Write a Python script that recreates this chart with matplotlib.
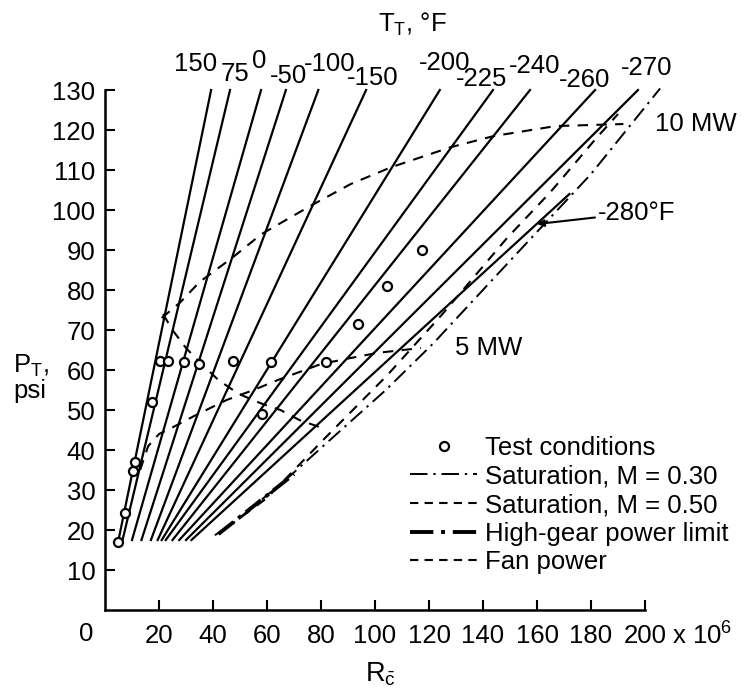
import matplotlib
matplotlib.use("Agg")
import matplotlib.pyplot as plt
from matplotlib.lines import Line2D

plt.rcParams["font.family"] = ["Liberation Sans", "DejaVu Sans"]
plt.rcParams["mathtext.fontset"] = "custom"
plt.rcParams["mathtext.rm"] = "Liberation Sans"
plt.rcParams["mathtext.it"] = "Liberation Sans"

# ---- data ----
temp_labels = ["150", "75", "0", "-50", "-100", "-150", "-200", "-225", "-240", "-260", "-270"]
temp_x0 = [5, 6.5, 10, 13.5, 17, 19.5, 21, 22.5, 25, 27.5, 30]
temp_x1 = [39.3, 46.3, 57.8, 67, 79, 96.7, 124, 143.7, 157.4, 181.5, 197.4]
temp_y0 = 17.5
temp_y1 = 130
temp_lab_x = [33.5, 48.3, 57.0, 67.8, 83.3, 99.3, 125.9, 139.6, 159.3, 177.8, 200.7]
temp_lab_y = [136.4, 133.9, 137.3, 133.4, 136.4, 132.9, 136.7, 132.8, 135.9, 132.4, 135.4]

t280_x = [32, 172]
t280_y = [17.5, 104]

test_x = [4.8, 7.4, 10.4, 11.1, 17.4, 20.4, 23.4, 29.3, 34.8, 47.4, 61.4, 58, 82, 93.8, 104.5, 117.4]
test_y = [17, 24.2, 34.7, 36.9, 51.9, 62.3, 62.3, 62, 61.6, 62.3, 62, 49, 62, 71.6, 81, 90]

sat30_x = [40.7, 47.4, 66.7, 80, 104, 121.5, 148.9, 180, 205.6]
sat30_y = [18.7, 21.7, 32.4, 40.5, 55, 66.6, 86.5, 109, 130.4]

sat50_x = [45, 60, 81.5, 104.4, 125, 148.9, 165, 182, 190]
sat50_y = [20.5, 28, 43, 58.6, 74, 93, 104.5, 118, 124]

gear_x = [42, 70]
gear_y = [19, 34]

fan10_x = [21, 28, 35, 47, 58, 76, 91, 106, 128, 144, 167, 192]
fan10_y = [73, 77, 82, 88, 94, 101, 106.5, 110.7, 115.7, 118.5, 121, 121.5]

fan5_x = [13, 16, 20, 26, 33, 45, 55, 64, 72, 80, 91, 101, 117]
fan5_y = [35, 41, 44, 46, 48.5, 52.5, 55, 57.5, 59.5, 61.5, 63, 64.3, 65.5]

limit_x = [21.5, 25, 30, 35, 42, 47.4, 51, 58, 65, 72, 80]
limit_y = [74, 70, 65.5, 62, 57.5, 55, 53.6, 51.6, 50, 47.5, 45.6]

xticks = [20, 40, 60, 80, 100, 120, 140, 160, 180, 200]
yticks = [10, 20, 30, 40, 50, 60, 70, 80, 90, 100, 110, 120, 130]

FS = 18.5
LW = 1.6

fig = plt.figure(figsize=(7.5, 6.91), dpi=100)
ax = fig.add_axes([0.14, 0.1172, 0.72, 0.7525])
ax.set_xlim(0, 200)
ax.set_ylim(0, 130)

for sp in ["top", "right"]:
    ax.spines[sp].set_visible(False)
for sp in ["left", "bottom"]:
    ax.spines[sp].set_linewidth(1.8)

ax.set_xticks(xticks)
ax.set_xticklabels([str(v) for v in xticks])
ax.set_yticks(yticks)
ax.tick_params(direction="in", length=7, width=1.5, labelsize=FS)
ax.tick_params(axis="x", pad=10)
ax.tick_params(axis="y", pad=7)

# isotherm lines
for i, lab in enumerate(temp_labels):
    ax.plot([temp_x0[i], temp_x1[i]], [temp_y0, temp_y1], color="black", lw=LW, clip_on=False)
    ax.text(temp_lab_x[i], temp_lab_y[i], lab, ha="center", va="center", fontsize=FS, clip_on=False)
ax.plot(t280_x, t280_y, color="black", lw=LW)

# saturation / limits / fan power
ax.plot(sat30_x, sat30_y, color="black", lw=1.4, dashes=(8, 3, 1.2, 3), clip_on=False)
ax.plot(sat50_x, sat50_y, color="black", lw=1.5, dashes=(5, 4), clip_on=False)
ax.plot(gear_x, gear_y, color="black", lw=2.8, dashes=(5, 1.5, 1, 1.5))
ax.plot(fan10_x, fan10_y, color="black", lw=1.5, dashes=(5, 4))
ax.plot(fan5_x, fan5_y, color="black", lw=1.5, dashes=(5, 4))
ax.plot(limit_x, limit_y, color="black", lw=1.5, dashes=(5, 4))

ax.plot(test_x, test_y, "o", ms=6.5, mfc="white", mec="black", mew=1.6, ls="none")

# labels on the chart
ax.text(203.7, 121.4, "10 MW", ha="left", va="center", fontsize=FS, clip_on=False)
ax.text(129.6, 65.6, "5 MW", ha="left", va="center", fontsize=FS)
ax.annotate("-280°F", xy=(160, 96.5), xytext=(182.5, 99.3), ha="left", va="center",
            fontsize=FS, arrowprops=dict(arrowstyle="-|>", color="black", lw=1.5,
                                         shrinkA=0, shrinkB=0, mutation_scale=10))
ax.text(113.7, 146.5, r"$\mathregular{T_T}$, °F", ha="center", va="center", fontsize=FS, clip_on=False)

ax.text(-7, -3.0, "0", ha="center", va="top", fontsize=FS, clip_on=False)
ax.text(210, -3.0, r"x 10$^{6}$", ha="left", va="top", fontsize=FS, clip_on=False)
ax.text(102, -12.5, r"R$_{\bar{\mathregular{c}}}$", ha="center", va="top", fontsize=FS + 1, clip_on=False)

fig.text(13 / 750, 1 - 378 / 691, "$\\mathregular{P_T}$,\npsi", ha="left", va="center",
         fontsize=FS, linespacing=1.0)

handles = [
    Line2D([], [], ls="none", marker="o", ms=6.5, mfc="white", mec="black", mew=1.6),
    Line2D([], [], color="black", lw=1.4, dashes=(9, 3, 1.2, 3)),
    Line2D([], [], color="black", lw=1.5, dashes=(4, 3)),
    Line2D([], [], color="black", lw=2.8, dashes=(6, 2, 1, 2)),
    Line2D([], [], color="black", lw=1.5, dashes=(4, 3)),
]
labels = ["Test conditions", "Saturation, M = 0.30", "Saturation, M = 0.50",
          "High-gear power limit", "Fan power"]
ax.legend(handles, labels, loc="upper left", bbox_to_anchor=(0.565, 0.335),
          frameon=False, fontsize=FS, handlelength=2.6, handletextpad=0.3,
          labelspacing=0.18, borderpad=0, borderaxespad=0)

fig.savefig("out.png", dpi=100)
